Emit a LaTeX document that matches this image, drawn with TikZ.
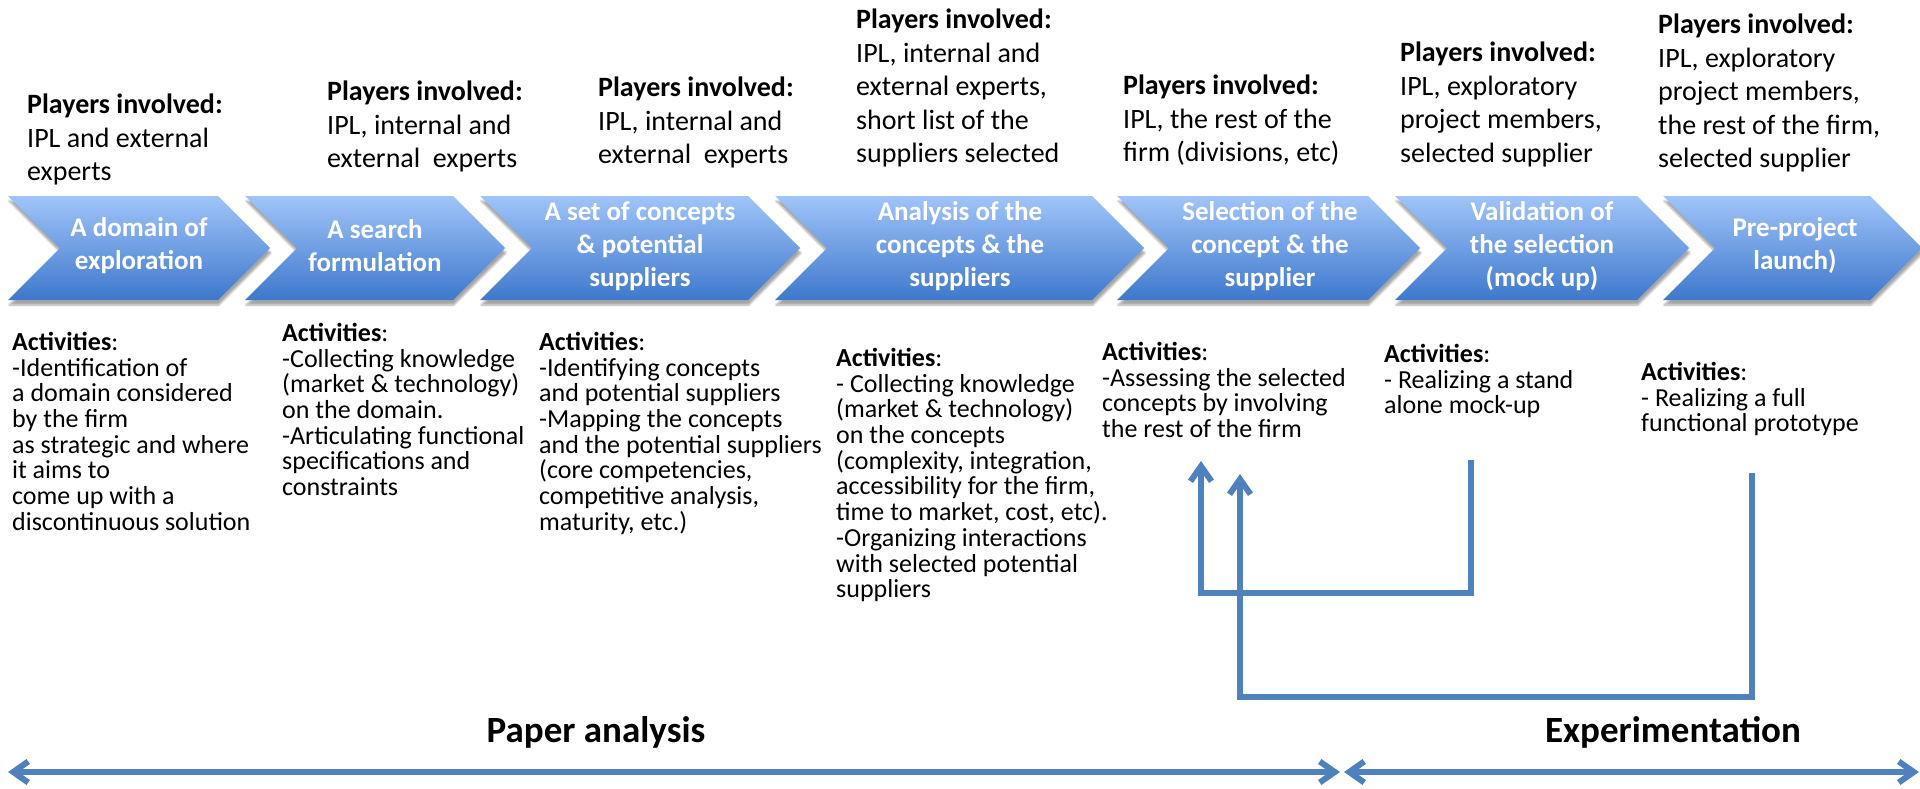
\documentclass[tikz,border=0pt]{standalone}
\usepackage{fontspec}
\setmainfont{Carlito}
\usetikzlibrary{arrows.meta,shadows.blur}
\definecolor{chevtop}{RGB}{160,196,249}
\definecolor{chevbot}{RGB}{62,120,204}
\definecolor{arrowblue}{RGB}{79,129,189}
\tikzset{
  chev/.style={top color=chevtop,bottom color=chevbot,
    blur shadow={shadow xshift=1pt,shadow yshift=-5pt,shadow opacity=35,shadow blur steps=6}},
  chevtext/.style={text=white,font=\bfseries\fontsize{27}{33}\selectfont,align=center,inner sep=0pt},
  players/.style={font=\fontsize{28}{33.5}\selectfont,align=left,anchor=north west,inner sep=0pt},
  activ/.style={font=\fontsize{26}{25.7}\selectfont,align=left,anchor=north west,inner sep=0pt},
  barb/.style={Straight Barb[length=15pt,width=21pt]},
  fbarrow/.style={draw=arrowblue,line width=6pt,-{Straight Barb[length=15pt,width=21pt]}},
  spanarrow/.style={draw=arrowblue,line width=6pt,{Straight Barb[length=15pt,width=21pt]}-{Straight Barb[length=15pt,width=21pt]}},
  phaselabel/.style={font=\bfseries\fontsize{37}{44}\selectfont,inner sep=0pt},
}
\newcommand\mychev[2]{\path[chev] (#1,196) -- (#2,196) -- ({#2+52},248) -- (#2,300) -- (#1,300) -- ({#1+52},248) -- cycle;}
\begin{document}
\begin{tikzpicture}[x=1pt,y=-1pt]
\useasboundingbox (0,0) rectangle (1920,789);
% chevrons
\mychev{8}{218}
\mychev{245}{453}
\mychev{480}{748}
\mychev{775}{1092}
\mychev{1117}{1368}
\mychev{1395}{1637}
\mychev{1663}{1870}
\node[chevtext] (c1) at (139,246) {A domain of\\exploration};
\node[chevtext] (c2) at (375,246) {A search\\formulation};
\node[chevtext] (c3) at (640,246) {A set of concepts\\\& potential\\suppliers};
\node[chevtext] (c4) at (960,246) {Analysis of the\\concepts \& the\\suppliers};
\node[chevtext] (c5) at (1270,246) {Selection of the\\concept \& the\\supplier};
\node[chevtext] (c6) at (1542,246) {Validation of\\the selection\\(mock up)};
\node[chevtext] (c7) at (1795,246) {Pre-project\\launch)};
% players
\node[players] (p1) at (27,94) {\textbf{Players involved:}\\IPL and external\\experts};
\node[players] (p2) at (327,81) {\textbf{Players involved:}\\IPL, internal and\\external\ \ experts};
\node[players] (p3) at (598,77) {\textbf{Players involved:}\\IPL, internal and\\external\ \ experts};
\node[players] (p4) at (856,9) {\textbf{Players involved:}\\IPL, internal and\\external experts,\\short list of the\\suppliers selected};
\node[players] (p5) at (1123,75) {\textbf{Players involved:}\\IPL, the rest of the\\firm (divisions, etc)};
\node[players] (p6) at (1400,42) {\textbf{Players involved:}\\IPL, exploratory\\project members,\\selected supplier};
\node[players] (p7) at (1658,14) {\textbf{Players involved:}\\IPL, exploratory\\project members,\\the rest of the firm,\\selected supplier};
% activities
\node[activ] (a1) at (12,332) {\textbf{Activities}:\\-Identification of\\a domain considered\\by the firm\\as strategic and where\\it aims to\\come up with a\\discontinuous solution};
\node[activ] (a2) at (282,323) {\textbf{Activities}:\\-Collecting knowledge\\(market \& technology)\\on the domain.\\-Articulating functional\\specifications and\\constraints};
\node[activ] (a3) at (539,332) {\textbf{Activities}:\\-Identifying concepts\\and potential suppliers\\-Mapping the concepts\\and the potential suppliers\\(core competencies,\\competitive analysis,\\maturity, etc.)};
\node[activ] (a4) at (836,348) {\textbf{Activities}:\\- Collecting knowledge\\(market \& technology)\\on the concepts\\(complexity, integration,\\accessibility for the firm,\\time to market, cost, etc).\\-Organizing interactions\\with selected potential\\suppliers};
\node[activ] (a5) at (1102,342) {\textbf{Activities}:\\-Assessing the selected\\concepts by involving\\the rest of the firm};
\node[activ] (a6) at (1384,344) {\textbf{Activities}:\\- Realizing a stand\\alone mock-up};
\node[activ] (a7) at (1641,362) {\textbf{Activities}:\\- Realizing a full\\functional prototype};
% feedback connectors
\coordinate (fa) at (1471,460);
\coordinate (fb) at (1752,473);
\coordinate (ta) at (1201,461);
\coordinate (tb) at (1240,474);
\draw[fbarrow] (fa) -- (fa |- 0,593) -- (ta |- 0,593) -- (ta);
\draw[fbarrow] (fb) -- (fb |- 0,697) -- (tb |- 0,697) -- (tb);
% phases
\node[phaselabel] (pa) at (596,732) {Paper analysis};
\node[phaselabel] (ex) at (1673,732) {Experimentation};
\coordinate (s1) at (8,772);
\coordinate (s2) at (1340,772);
\coordinate (s3) at (1344,772);
\coordinate (s4) at (1919,772);
\draw[spanarrow] (s1) -- (s2);
\draw[spanarrow] (s3) -- (s4);
\end{tikzpicture}
\end{document}
